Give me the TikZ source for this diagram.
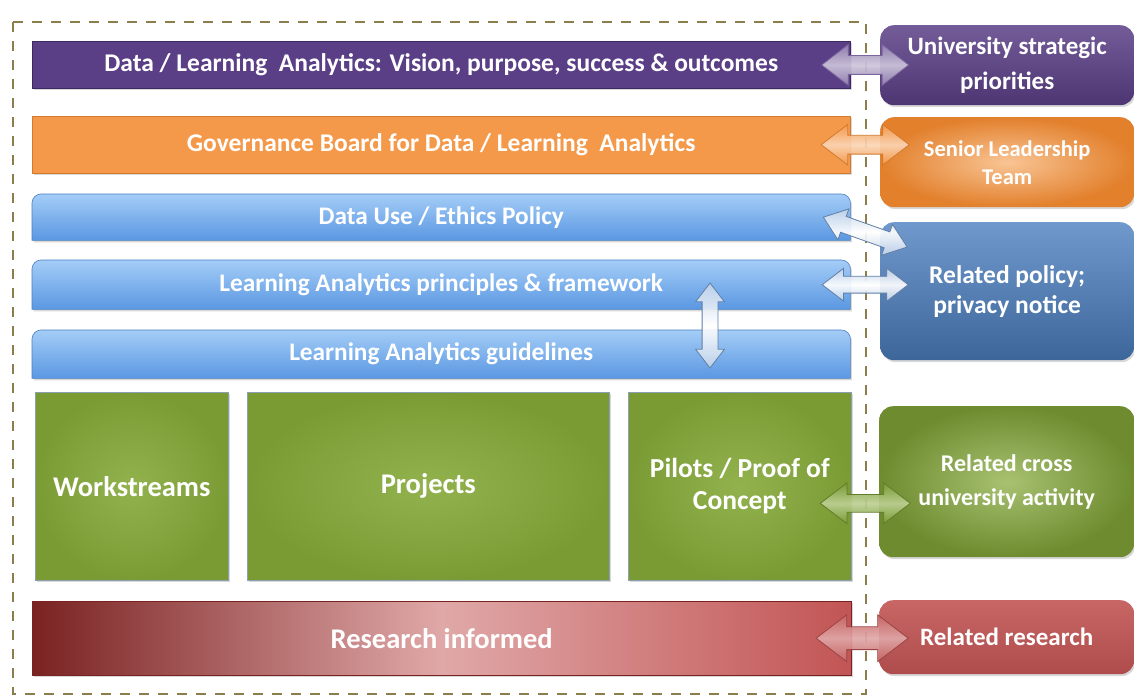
\documentclass[tikz,border=0pt]{standalone}
\usepackage{fontspec}
\setmainfont{Carlito}
\usetikzlibrary{shapes.arrows,shadows,backgrounds,calc}

\newcommand{\letra}[2]{\fontsize{#1}{#2}\selectfont\bfseries}

\begin{document}
\begin{tikzpicture}[x=1pt,y=-1pt,
    barra/.style={anchor=north west,inner sep=0pt,text=white,align=center},
    caja/.style={anchor=north west,inner sep=0pt,text=white,align=center,rounded corners=14pt},
    sombra/.style={drop shadow={shadow xshift=1.5pt,shadow yshift=-2pt,opacity=0.3}},
    flecha/.style={double arrow,double arrow tip angle=75,inner xsep=0pt,inner ysep=9pt,
      double arrow head extend=11pt,line width=0.8pt,fill opacity=0.92},
    marco/.style={draw=marron,line width=2.5pt,dash pattern=on 10pt off 9pt}]
    %colores
    \definecolor{marron}{HTML}{8C7E4C}
    \definecolor{morado}{HTML}{5A3F86}
    \definecolor{moradoosc}{HTML}{3D2A5E}
    \definecolor{naranja}{HTML}{F4994A}
    \definecolor{naranjaosc}{HTML}{D27A2E}
    \definecolor{azulclaro}{HTML}{A4CDF7}
    \definecolor{azul}{HTML}{5A97E2}
    \definecolor{azulosc}{HTML}{4C7FC0}
    \definecolor{verde}{HTML}{7A9B34}
    \definecolor{verdeclaro}{HTML}{92B24E}
    \definecolor{rojoosc}{HTML}{7A2222}
    \definecolor{rosa}{HTML}{E0A8A8}
    \definecolor{rojo}{HTML}{C25555}
    \definecolor{borde}{HTML}{8CA0B4}

    % fondo y limites
    \begin{pgfonlayer}{background}
        \fill[white] (0,0) rectangle (1134,696);
    \end{pgfonlayer}
    \useasboundingbox (0,0) rectangle (1134,696);
    \draw[marco] (13,22) rectangle (866,694);

    % barras de la izquierda
    \node[barra,sombra,fill=morado,draw=moradoosc,minimum width=818pt,minimum height=47pt,
      font=\letra{25.5}{30}] (vision) at (32,41)
      {Data / Learning\ \ Analytics: Vision, purpose, success \& outcomes};
    \node[barra,sombra,fill=naranja,draw=naranjaosc,minimum width=818pt,minimum height=57pt,
      font=\letra{25.5}{30}] (gov) at (32,116)
      {Governance Board for Data / Learning\ \ Analytics};
    \node[barra,minimum width=818pt,minimum height=46pt,font=\letra{25.3}{30}] (ethics) at (32,194)
      {Data Use / Ethics Policy};
    \node[barra,minimum width=818pt,minimum height=49pt,font=\letra{25.3}{30}] (framework) at (32,260)
      {Learning Analytics principles \& framework};
    \node[barra,minimum width=818pt,minimum height=48pt,font=\letra{25.3}{30}] (guidelines) at (32,330)
      {Learning Analytics guidelines};
    \begin{pgfonlayer}{background}
        \foreach \n in {ethics,framework,guidelines}
        \shade[sombra,top color=azulclaro,bottom color=azul,draw=azulosc,line width=0.6pt]
          (\n.south west) -- ([yshift=-9pt]\n.north west) arc (180:90:9pt)
          -- ([xshift=-9pt]\n.north east) arc (90:0:9pt) -- (\n.south east) -- cycle;
    \end{pgfonlayer}

    % cajas verdes
    \node[barra,sombra,inner color=verdeclaro,outer color=verde,draw=borde,line width=0.6pt,
      minimum width=193pt,minimum height=188pt,font=\letra{28.5}{34}] (work) at (35,392) {Workstreams};
    \node[barra,sombra,inner color=verdeclaro,outer color=verde,draw=borde,line width=0.6pt,
      minimum width=362pt,minimum height=188pt,font=\letra{28.5}{34}] (projects) at (247,392) {Projects};
    \node[barra,sombra,inner color=verdeclaro,outer color=verde,draw=borde,line width=0.6pt,
      minimum width=223pt,minimum height=188pt,font=\letra{27.5}{32}] (pilots) at (628,392)
      {Pilots / Proof of\\Concept};

    % investigacion
    \node[barra,sombra,left color=rojoosc,right color=rojo,middle color=rosa,draw=rojoosc,
      minimum width=819pt,minimum height=74pt,font=\letra{28.5}{34}] (informed) at (32,601)
      {Research informed};

    % cajas de la derecha
    \node[caja,sombra,top color=morado!85!white,bottom color=morado!85!black,
      minimum width=254pt,minimum height=80pt,font=\letra{25}{35}] (strat) at (880,25)
      {University strategic\\priorities};
    \node[caja,sombra,outer color={rgb,255:red,226;green,128;blue,44},
      inner color={rgb,255:red,249;green,196;blue,148},
      minimum width=254pt,minimum height=90pt,font=\letra{22.5}{28}] (slt) at (880,117)
      {Senior Leadership\\Team};
    \node[caja,sombra,top color=azulosc!80!white,bottom color=azulosc!80!black,
      minimum width=254pt,minimum height=138pt,font=\letra{25.5}{30}] (policy) at (880,222)
      {Related policy;\\privacy notice};
    \node[caja,sombra,inner color=verdeclaro!80!white,outer color=verde!90!black,
      minimum width=255pt,minimum height=151pt,font=\letra{24}{34}] (cross) at (879,406)
      {Related cross\\university activity};
    \node[caja,sombra,top color=rojo!90!white,bottom color=rojo!90!black,
      minimum width=255pt,minimum height=74pt,font=\letra{25}{30}] (research) at (879,600)
      {Related research};

    % flechas dobles
    \path (vision.east) -- (strat.west)
      node[midway,flecha,minimum height=87pt,draw=morado!80!white,top color=morado!65!white,
        bottom color=morado!65!white,middle color=morado!30!white] (a1) {};
    \path (gov.east) -- (gov.east -| slt.west)
      node[midway,flecha,minimum height=88pt,draw=naranjaosc,top color=naranja,
        bottom color=naranja,middle color=naranja!40!white] (a2) {};
    \path ($(ethics.east)+(-27,0)$) -- ($(policy.north west)+(27,25)$)
      node[midway,sloped,flecha,minimum height=89pt,inner ysep=8pt,double arrow head extend=8pt,
        draw=azulosc!60!gray,top color=azulosc!35!white,bottom color=azulosc!35!white,
        middle color=white] (a3) {};
    \path (framework.east) -- (framework.east -| policy.west)
      node[midway,flecha,minimum height=86pt,inner ysep=8pt,double arrow head extend=8pt,
        draw=azulosc!60!gray,top color=azulosc!35!white,bottom color=azulosc!35!white,
        middle color=white] (a4) {};
    \path ($(framework.north west)+(678,23)$) -- ($(guidelines.north west)+(678,38)$)
      node[midway,sloped,flecha,minimum height=85pt,inner ysep=7.5pt,double arrow head extend=6.5pt,
        draw=azulosc!60!gray,top color=azulosc!35!white,bottom color=azulosc!35!white,
        middle color=white] (a5) {};
    \path ([yshift=-17pt]pilots.east) -- ([yshift=-17pt]pilots.east -| cross.west)
      node[midway,flecha,minimum height=90pt,inner ysep=8.5pt,double arrow head extend=11.5pt,
        draw=verde!80!black,top color=verde,bottom color=verde,middle color=verdeclaro!60!white] (a6) {};
    \path (informed.east) -- (informed.east -| research.west)
      node[midway,xshift=-3pt,flecha,minimum height=92pt,inner ysep=11pt,double arrow head extend=12pt,
        draw=rojo!80!black,top color=rojo!90!white,bottom color=rojo!90!white,
        middle color=rosa] (a7) {};
\end{tikzpicture}
\end{document}
